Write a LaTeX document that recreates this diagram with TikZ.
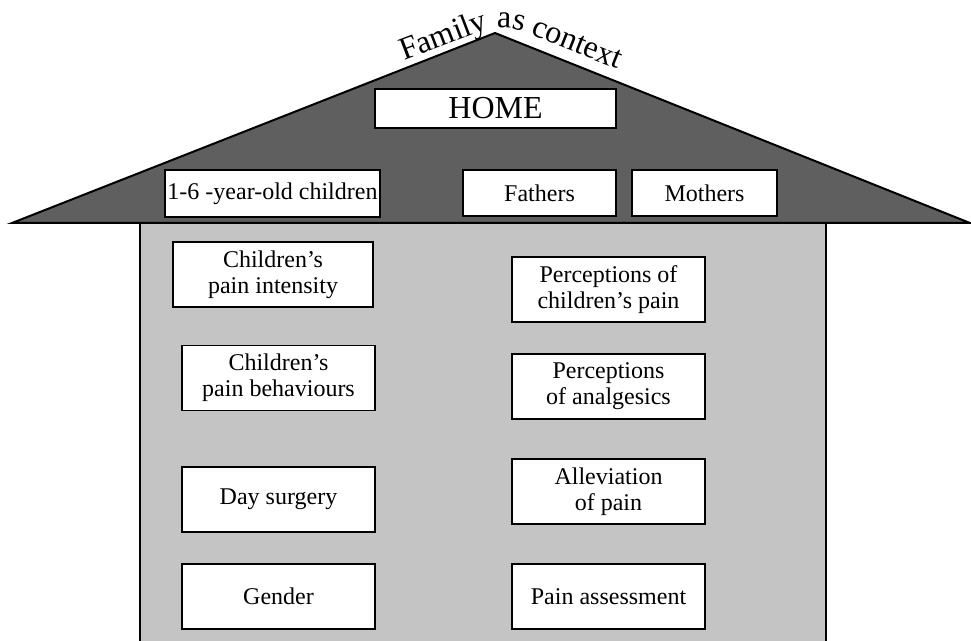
\documentclass[tikz,border=0pt]{standalone}
\usepackage{fontspec}
\setmainfont{Liberation Serif}
\usetikzlibrary{decorations.text}
\definecolor{roofgray}{RGB}{95,95,95}
\definecolor{wallgray}{RGB}{196,196,196}
\tikzset{
  labelbox/.style={draw, fill=white, line width=1.1pt, align=center, inner sep=0pt,
    font=\fontsize{18}{19.5}\selectfont},
  leftbox/.style={labelbox, minimum width=144.75pt, minimum height=48.75pt},
  rightbox/.style={labelbox, minimum width=144.75pt, minimum height=48.75pt},
}

\begin{document}
\begin{tikzpicture}[x=0.75pt,y=0.75pt,yscale=-1,xscale=1]
\useasboundingbox (0,0) rectangle (971,641); %picture is 971 by 641

%Shape: Wall
\draw [fill=wallgray][line width=1.2] (140,641) -- (140,223) -- (826,223) -- (826,641) ;
%Shape: Triangle (roof)
\draw [fill=roofgray][line width=1.5] (12,223) -- (495,33) -- (970,223) -- cycle ;

% Curved text over the roof
\path [decorate, decoration={text along path, text format delimiters={|}{|},
    text={|\fontsize{24}{26}\selectfont|Family as context}}]
  (404,61) -- (477,33) .. controls (492,27) and (504,26) .. (519,30) -- (650,82) ;

% Text Node
\draw (495.5,108.5) node [labelbox, minimum width=180.75pt, minimum height=29.25pt,
  font=\fontsize{24}{26}\selectfont] (home) {HOME};
% Text Node
\draw (272.5,193.5) node [labelbox, minimum width=161.25pt, minimum height=35.25pt] (kids) {1-6 -year-old children};
% Text Node
\draw (539.5,193) node [labelbox, minimum width=114.75pt, minimum height=34.5pt] (fathers) {Fathers};
% Text Node
\draw (704.5,193) node [labelbox, minimum width=108.75pt, minimum height=34.5pt] (mothers) {Mothers};

% Text Node
\draw (273,274.5) node [leftbox, minimum width=150pt] (intensity) {Children’s\\pain intensity};
% Text Node
\draw (278.5,378) node [leftbox] (behaviours) {Children’s\\pain behaviours};
% Text Node
\draw (278.5,499.5) node [leftbox] (surgery) {Day surgery};
% Text Node
\draw (278.5,596.5) node [leftbox] (gender) {Gender};

% Text Node
\draw (608.5,289.5) node [rightbox] (childpain) {Perceptions of\\children’s pain};
% Text Node
\draw (608.5,386.5) node [rightbox] (analgesics) {Perceptions\\of analgesics};
% Text Node
\draw (608.5,491.5) node [rightbox] (alleviation) {Alleviation\\of pain};
% Text Node
\draw (608.5,596.5) node [rightbox] (assessment) {Pain assessment};

\end{tikzpicture}
\end{document}
